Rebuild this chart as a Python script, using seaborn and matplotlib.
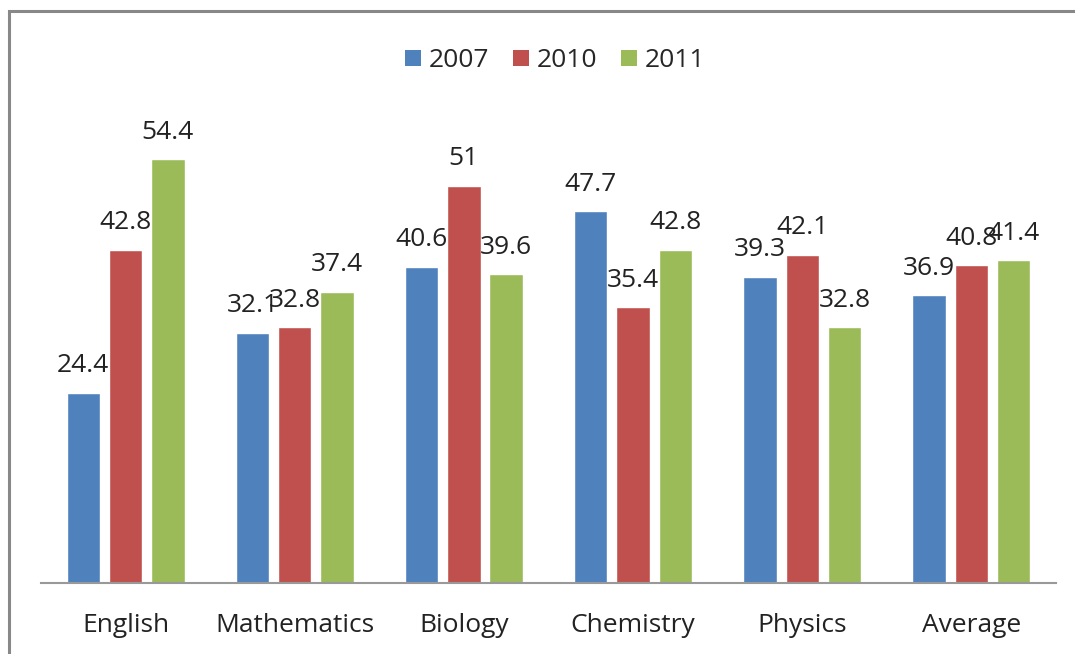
import matplotlib
matplotlib.use("Agg")
import matplotlib.pyplot as plt
import seaborn as sns
import pandas as pd
from matplotlib.patches import Rectangle

subjects = ["English", "Mathematics", "Biology", "Chemistry", "Physics", "Average"]
years = ["2007", "2010", "2011"]
v2007 = [24.4, 32.1, 40.6, 47.7, 39.3, 36.9]
v2010 = [42.8, 32.8, 51, 35.4, 42.1, 40.8]
v2011 = [54.4, 37.4, 39.6, 42.8, 32.8, 41.4]
colors = ["#4F81BD", "#C0504D", "#9BBB59"]

rows = []
for y, vals in zip(years, [v2007, v2010, v2011]):
    for s, v in zip(subjects, vals):
        rows.append({"Subject": s, "Year": y, "Value": v})
df = pd.DataFrame(rows)

sns.set_theme(style="white")
plt.rcParams["font.family"] = ["Open Sans", "DejaVu Sans"]

fig = plt.figure(figsize=(10.75, 6.54), dpi=100)
ax = fig.add_axes([0.0381, 0.1086, 0.9442, 0.7148])

sns.barplot(data=df, x="Subject", y="Value", hue="Year", palette=colors,
            width=0.75, gap=0.21, ax=ax, legend=False, saturation=1)

for cont in ax.containers:
    ax.bar_label(cont, labels=[f"{v:g}" for v in cont.datavalues],
                 padding=10.5, fontsize=19, color="#222222")

ax.set_ylim(0, 60)
ax.set_xlim(-0.5, 5.5)
ax.set_xlabel("")
ax.set_ylabel("")
ax.set_yticks([])
ax.tick_params(axis="x", length=0, pad=21.5, labelsize=19, labelcolor="#222222")
for side in ["top", "left", "right"]:
    ax.spines[side].set_visible(False)
ax.spines["bottom"].set_color("#999999")
ax.spines["bottom"].set_linewidth(1.5)

handles = [Rectangle((0, 0), 1, 1, facecolor=c, edgecolor="none") for c in colors]
fig.legend(handles, years, loc="center", bbox_to_anchor=(0.5165, 0.907), ncol=3,
           frameon=False, fontsize=19, handlelength=0.6, handleheight=0.6,
           handletextpad=0.3, columnspacing=0.9, borderpad=0, borderaxespad=0)

fig.patches.append(Rectangle((9 / 1075, -0.1), 1.2, 1 - 11 / 654 + 0.1,
                             transform=fig.transFigure, fill=False,
                             edgecolor="#888888", linewidth=2.2))

fig.savefig("out.png", dpi=100, facecolor="white")
